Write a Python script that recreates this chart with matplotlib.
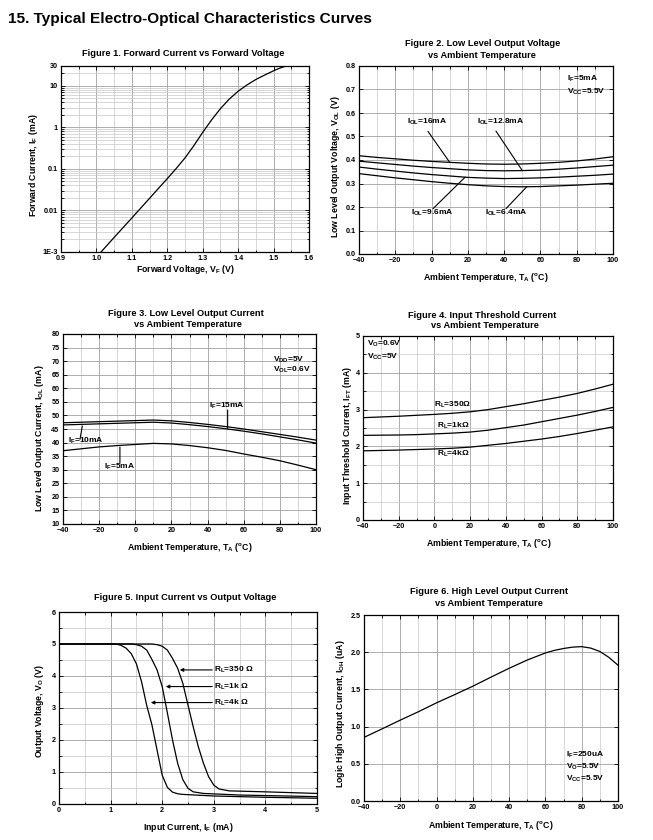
import matplotlib
matplotlib.use('Agg')
import matplotlib.pyplot as plt
from matplotlib.ticker import MultipleLocator, FixedLocator, FixedFormatter, LogLocator, NullFormatter, FormatStrFormatter
import numpy as np

# ---------------- data ----------------
# Figure 1: forward current vs forward voltage
f1_vf = [1.013, 1.025, 1.05, 1.075, 1.10, 1.125, 1.15, 1.175, 1.20, 1.225, 1.25, 1.275, 1.30,
         1.325, 1.35, 1.375, 1.40, 1.425, 1.45, 1.475, 1.50, 1.515, 1.535]
f1_if = [0.001, 0.0013, 0.00224, 0.00385, 0.0066, 0.0114, 0.0196, 0.0339, 0.0583, 0.102, 0.184,
         0.363, 0.76, 1.51, 2.82, 4.8, 7.4, 10.5, 14.2, 18.2, 23.0, 26.2, 30.0]

# Figure 2: low level output voltage vs temperature
f2_t = [-40, -30, -20, -10, 0, 10, 20, 30, 40, 50, 60, 70, 80, 90, 100]
f2_16 = [0.418, 0.411, 0.405, 0.399, 0.394, 0.390, 0.386, 0.383, 0.382, 0.383, 0.386, 0.390, 0.396, 0.404, 0.414]
f2_128 = [0.395, 0.388, 0.381, 0.374, 0.368, 0.363, 0.358, 0.355, 0.354, 0.355, 0.357, 0.361, 0.366, 0.372, 0.378]
f2_96 = [0.370, 0.361, 0.353, 0.345, 0.338, 0.332, 0.326, 0.323, 0.321, 0.322, 0.324, 0.327, 0.331, 0.335, 0.340]
f2_64 = [0.342, 0.333, 0.324, 0.316, 0.308, 0.301, 0.295, 0.290, 0.287, 0.286, 0.287, 0.290, 0.293, 0.297, 0.301]

# Figure 3: low level output current vs temperature
f3_t = [-40, -30, -20, -10, 0, 10, 20, 30, 40, 50, 60, 70, 80, 90, 100]
f3_15 = [47.3, 47.5, 47.7, 47.9, 48.1, 48.3, 48.0, 47.4, 46.7, 45.9, 45.0, 44.0, 43.0, 42.0, 40.9]
f3_10 = [46.5, 46.7, 46.9, 47.1, 47.3, 47.5, 47.2, 46.6, 45.9, 45.1, 44.2, 43.2, 42.1, 41.0, 39.8]
f3_5 = [37.0, 37.7, 38.4, 38.9, 39.3, 39.7, 39.5, 38.9, 38.1, 37.1, 35.8, 34.6, 33.3, 31.7, 30.0]

# Figure 4: input threshold current vs temperature
f4_t = [-40, -30, -20, -10, 0, 10, 20, 30, 40, 50, 60, 70, 80, 90, 100]
f4_350 = [2.78, 2.80, 2.82, 2.845, 2.87, 2.90, 2.94, 3.00, 3.08, 3.16, 3.25, 3.34, 3.44, 3.56, 3.69]
f4_1k = [2.30, 2.305, 2.31, 2.32, 2.34, 2.36, 2.39, 2.44, 2.51, 2.58, 2.67, 2.76, 2.85, 2.95, 3.06]
f4_4k = [1.88, 1.89, 1.90, 1.915, 1.93, 1.95, 1.98, 2.03, 2.08, 2.14, 2.20, 2.27, 2.35, 2.44, 2.53]

# Figure 5: input current vs output voltage
f5_i_4k = [0, 1.1, 1.2, 1.3, 1.4, 1.5, 1.6, 1.7, 1.8, 1.9, 2.0, 2.1, 2.2, 2.3, 2.4, 3.0, 4.0, 5.0]
f5_v_4k = [5.0, 5.0, 4.96, 4.87, 4.70, 4.38, 3.82, 3.08, 2.48, 1.69, 0.90, 0.52, 0.37, 0.32, 0.30, 0.25, 0.21, 0.18]
f5_i_1k = [0, 1.4, 1.5, 1.6, 1.7, 1.8, 1.9, 2.0, 2.1, 2.2, 2.3, 2.4, 2.5, 2.6, 2.8, 3.5, 5.0]
f5_v_1k = [5.0, 5.0, 4.98, 4.93, 4.81, 4.52, 4.19, 3.67, 2.85, 2.0, 1.27, 0.76, 0.49, 0.38, 0.33, 0.28, 0.23]
f5_i_350 = [0, 1.8, 1.9, 2.0, 2.1, 2.2, 2.3, 2.4, 2.5, 2.6, 2.7, 2.8, 2.9, 3.0, 3.1, 3.3, 4.0, 5.0]
f5_v_350 = [5.0, 5.0, 4.98, 4.93, 4.81, 4.55, 4.24, 3.77, 3.09, 2.42, 1.79, 1.27, 0.85, 0.59, 0.47, 0.41, 0.38, 0.33]

# Figure 6: high level output current vs temperature
f6_t = [-40, -30, -20, -10, 0, 10, 20, 30, 40, 50, 60, 65, 70, 75, 80, 85, 90, 95, 100]
f6_i = [0.855, 0.97, 1.087, 1.20, 1.32, 1.43, 1.543, 1.665, 1.784, 1.895, 1.99, 2.025, 2.05, 2.068, 2.075,
        2.055, 2.01, 1.93, 1.825]

f1_yticks = [1e-3, 0.01, 0.1, 1, 10, 30]
f1_ylabels = ['1E-3', '0.01', '0.1', '1', '10', '30']

# ---------------- style ----------------
W, H = 653, 840
plt.rcParams.update({
    'font.family': ['Liberation Sans', 'DejaVu Sans'],
    'font.weight': 'bold',
    'mathtext.fontset': 'custom',
    'mathtext.rm': 'Liberation Sans:bold',
    'mathtext.it': 'Liberation Sans:bold',
    'mathtext.bf': 'Liberation Sans:bold',
    'mathtext.sf': 'Liberation Sans:bold',
    'axes.linewidth': 0.8,
    'lines.solid_joinstyle': 'round',
})

fig = plt.figure(figsize=(W / 100, H / 100), dpi=100)
fig.patch.set_facecolor('white')

TS = 6.7   # subplot title
LS = 6.3   # axis label
KS = 5.2   # tick label
AS = 6.0   # annotation
LW = 0.9


def add_ax(l, t, r, b):
    return fig.add_axes([l / W, 1 - b / H, (r - l) / W, (b - t) / H])


def ftext(x, y, s, **kw):
    kw.setdefault('ha', 'center')
    kw.setdefault('va', 'center')
    fig.text(x / W, 1 - y / H, s, **kw)


def style(ax, minor_grid='both'):
    ax.tick_params(which='both', direction='in', top=True, right=True, labelsize=KS, width=0.6, pad=2.5)
    ax.tick_params(which='major', length=3)
    ax.tick_params(which='minor', length=1.8)
    ax.grid(which='major', color='#a0a0a0', lw=0.6)
    if minor_grid:
        ax.grid(which='minor', axis=minor_grid, color='#c8c8c8', lw=0.5)
    ax.set_axisbelow(True)
    for s in ax.spines.values():
        s.set_linewidth(0.9)


ftext(8, 19, '15. Typical Electro-Optical Characteristics Curves', ha='left', fontsize=11.1)

TEMP_LABEL = r'Ambient Temperature, T$_A$ ($^o$C)'

# ---------- Figure 1 ----------
ax1 = add_ax(61, 66, 309, 252)
ax1.plot(f1_vf, f1_if, color='black', lw=LW)
ax1.set_yscale('log')
ax1.set_xlim(0.9, 1.6)
ax1.set_ylim(1e-3, 30)
ax1.yaxis.set_major_locator(FixedLocator(f1_yticks))
ax1.yaxis.set_major_formatter(FixedFormatter(f1_ylabels))
ax1.yaxis.set_minor_locator(LogLocator(base=10, subs=np.arange(2, 10)))
ax1.yaxis.set_minor_formatter(NullFormatter())
ax1.xaxis.set_major_locator(MultipleLocator(0.1))
ax1.xaxis.set_minor_locator(MultipleLocator(0.05))
ax1.xaxis.set_major_formatter(FormatStrFormatter('%.1f'))
style(ax1)
ftext(183, 53, 'Figure 1. Forward Current vs Forward Voltage', fontsize=TS)
ftext(186, 269, r'Forward Voltage, V$_F$ (V)', fontsize=LS)
ftext(33, 165, r'Forward Current, I$_F$ (mA)', fontsize=LS, rotation=90)

# ---------- Figure 2 ----------
ax2 = add_ax(359, 66, 613, 254)
for ser in (f2_16, f2_128, f2_96, f2_64):
    ax2.plot(f2_t, ser, color='black', lw=LW)
ax2.set_xlim(-40, 100)
ax2.set_ylim(0, 0.8)
ax2.xaxis.set_major_locator(MultipleLocator(20))
ax2.xaxis.set_minor_locator(MultipleLocator(10))
ax2.yaxis.set_major_locator(MultipleLocator(0.1))
ax2.yaxis.set_major_formatter(FormatStrFormatter('%.1f'))
style(ax2, minor_grid='x')
ftext(483, 44, 'Figure 2. Low Level Output Voltage', fontsize=TS)
ftext(482, 55, 'vs Ambient Temperature', fontsize=TS)
ftext(486, 278, TEMP_LABEL, fontsize=LS)
ftext(335, 167, r'Low Level Output Voltage, V$_{OL}$ (V)', fontsize=LS, rotation=90)

f2_notes = [
    (r'I$_{OL}$=16mA', (-2.5, 0.562), (-2.0, 0.522), 10, f2_16),
    (r'I$_{OL}$=12.8mA', (38.3, 0.562), (35.5, 0.523), 50, f2_128),
    (r'I$_{OL}$=9.6mA', (0.2, 0.174), (0.8, 0.193), 18.5, f2_96),
    (r'I$_{OL}$=6.4mA', (41.0, 0.174), (41.0, 0.193), 52.5, f2_64),
]
for s, tp, lp, tx, ser in f2_notes:
    ax2.text(tp[0], tp[1], s, fontsize=AS, ha='center', va='center')
    ax2.annotate('', xy=(tx, np.interp(tx, f2_t, ser)), xytext=lp,
                 arrowprops=dict(arrowstyle='-', lw=0.8, color='black', shrinkA=0, shrinkB=0))
ax2.text(74.7, 0.745, r'I$_F$=5mA', fontsize=AS, ha='left', va='center')
ax2.text(74.7, 0.689, r'V$_{CC}$=5.5V', fontsize=AS, ha='left', va='center')

# ---------- Figure 3 ----------
ax3 = add_ax(63, 334, 316, 524)
for ser in (f3_15, f3_10, f3_5):
    ax3.plot(f3_t, ser, color='black', lw=LW)
ax3.set_xlim(-40, 100)
ax3.set_ylim(10, 80)
ax3.xaxis.set_major_locator(MultipleLocator(20))
ax3.xaxis.set_minor_locator(MultipleLocator(10))
ax3.yaxis.set_major_locator(MultipleLocator(5))
style(ax3, minor_grid='x')
ftext(186, 314, 'Figure 3. Low Level Output Current', fontsize=TS)
ftext(188, 324.5, 'vs Ambient Temperature', fontsize=TS)
ftext(190, 548, TEMP_LABEL, fontsize=LS)
ftext(40, 438, r'Low Level Output Current, I$_{OL}$ (mA)', fontsize=LS, rotation=90)

f3_notes = [
    (r'I$_F$=15mA', (50.6, 53.5), (51.1, 52.0), 51.1, f3_15),
    (r'I$_F$=10mA', (-27.4, 40.6), (-30.6, 41.2), -29.3, f3_10),
    (r'I$_F$=5mA', (-8.8, 31.1), (-8.5, 32.4), -8.5, f3_5),
]
for s, tp, lp, tx, ser in f3_notes:
    ax3.text(tp[0], tp[1], s, fontsize=AS, ha='center', va='center')
    ax3.annotate('', xy=(tx, np.interp(tx, f3_t, ser) - 0.6), xytext=lp,
                 arrowprops=dict(arrowstyle='-', lw=0.8, color='black', shrinkA=0, shrinkB=0))
ax3.text(76.2, 70.4, r'V$_{DD}$=5V', fontsize=AS, ha='left', va='center')
ax3.text(76.2, 66.7, r'V$_{OL}$=0.6V', fontsize=AS, ha='left', va='center')

# ---------- Figure 4 ----------
ax4 = add_ax(363, 336, 613, 520)
for ser in (f4_350, f4_1k, f4_4k):
    ax4.plot(f4_t, ser, color='black', lw=LW)
ax4.set_xlim(-40, 100)
ax4.set_ylim(0, 5)
ax4.xaxis.set_major_locator(MultipleLocator(20))
ax4.xaxis.set_minor_locator(MultipleLocator(10))
ax4.yaxis.set_major_locator(MultipleLocator(1))
ax4.yaxis.set_minor_locator(MultipleLocator(0.5))
style(ax4)
ftext(482, 315, 'Figure 4. Input Threshold Current', fontsize=TS)
ftext(485, 325.7, 'vs Ambient Temperature', fontsize=TS)
ftext(489, 543, TEMP_LABEL, fontsize=LS)
ftext(347, 435, r'Input Threshold Current, I$_{FT}$ (mA)', fontsize=LS, rotation=90)
ax4.text(10.0, 3.12, 'R$_L$=350Ω', fontsize=AS, ha='center', va='center')
ax4.text(10.5, 2.55, 'R$_L$=1kΩ', fontsize=AS, ha='center', va='center')
ax4.text(10.7, 1.79, 'R$_L$=4kΩ', fontsize=AS, ha='center', va='center')
ax4.text(-37.9, 4.78, r'V$_O$=0.6V', fontsize=AS, ha='left', va='center')
ax4.text(-37.9, 4.44, r'V$_{CC}$=5V', fontsize=AS, ha='left', va='center')

# ---------- Figure 5 ----------
ax5 = add_ax(59, 612, 317, 804)
ax5.plot(f5_i_4k, f5_v_4k, color='black', lw=LW)
ax5.plot(f5_i_1k, f5_v_1k, color='black', lw=LW)
ax5.plot(f5_i_350, f5_v_350, color='black', lw=LW)
ax5.set_xlim(0, 5)
ax5.set_ylim(0, 6)
ax5.xaxis.set_major_locator(MultipleLocator(1))
ax5.xaxis.set_minor_locator(MultipleLocator(0.5))
ax5.yaxis.set_major_locator(MultipleLocator(1))
ax5.yaxis.set_minor_locator(MultipleLocator(0.5))
style(ax5)
ftext(185, 598, 'Figure 5. Input Current vs Output Voltage', fontsize=TS)
ftext(188, 827, r'Input Current, I$_F$ (mA)', fontsize=LS)
ftext(40, 711, r'Output Voltage, V$_O$ (V)', fontsize=LS, rotation=90)
f5_notes = [('R$_L$=350 Ω', 4.19, 2.34), ('R$_L$=1k Ω', 3.67, 2.07), ('R$_L$=4k Ω', 3.17, 1.78)]
for s, v, tip in f5_notes:
    ax5.text(3.0, v, s, fontsize=AS, ha='left', va='center')
    ax5.annotate('', xy=(tip, v), xytext=(2.97, v),
                 arrowprops=dict(arrowstyle='-|>', lw=0.8, color='black', mutation_scale=5,
                                 shrinkA=0, shrinkB=0))

# ---------- Figure 6 ----------
ax6 = add_ax(364, 615, 618, 801)
ax6.plot(f6_t, f6_i, color='black', lw=LW)
ax6.set_xlim(-40, 100)
ax6.set_ylim(0, 2.5)
ax6.xaxis.set_major_locator(MultipleLocator(20))
ax6.xaxis.set_minor_locator(MultipleLocator(10))
ax6.yaxis.set_major_locator(MultipleLocator(0.5))
ax6.yaxis.set_major_formatter(FormatStrFormatter('%.1f'))
style(ax6, minor_grid='x')
ftext(489, 592, 'Figure 6. High Level Output Current', fontsize=TS)
ftext(489, 603.5, 'vs Ambient Temperature', fontsize=TS)
ftext(491, 825, TEMP_LABEL, fontsize=LS)
ftext(340, 714, r'Logic High Output Current, I$_{OH}$ (uA)', fontsize=LS, rotation=90)
ax6.text(71.2, 0.618, r'I$_F$=250uA', fontsize=AS, ha='left', va='center')
ax6.text(71.2, 0.461, r'V$_O$=5.5V', fontsize=AS, ha='left', va='center')
ax6.text(71.2, 0.292, r'V$_{CC}$=5.5V', fontsize=AS, ha='left', va='center')

fig.savefig('out.png', dpi=100, facecolor='white')
